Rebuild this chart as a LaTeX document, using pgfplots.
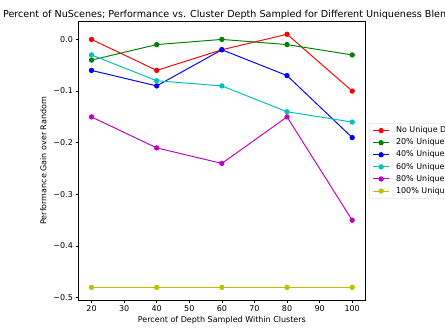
\documentclass[border=0pt]{standalone}
\usepackage{fontspec}
\setmainfont{DejaVu Sans}
\usepackage{pgfplots}
\pgfplotsset{compat=1.18}

\definecolor{mplr}{rgb}{1,0,0}
\definecolor{mplg}{rgb}{0,0.5,0}
\definecolor{mplb}{rgb}{0,0,1}
\definecolor{mplc}{rgb}{0,0.75,0.75}
\definecolor{mplm}{rgb}{0.75,0,0.75}
\definecolor{mply}{rgb}{0.75,0.75,0}

\begin{document}
\begin{tikzpicture}
\begin{axis}[
  name=ax, at={(0,0)}, anchor=south west,
  scale only axis, width=358.4pt, height=348pt,
  xmin=16, xmax=104, ymin=-0.5045, ymax=0.0345,
  xtick={20,30,40,50,60,70,80,90,100},
  ytick={-0.5,-0.4,-0.3,-0.2,-0.1,0},
  yticklabels={−0.5,−0.4,−0.3,−0.2,−0.1,0.0},
  tick align=outside, tick pos=left,
  major tick length=3.5pt,
  tick style={black, line width=0.8pt},
  axis line style={line width=0.8pt},
  tick label style={font=\fontsize{10}{12}\selectfont},
  /pgf/number format/assume math mode=true,
  xlabel={Percent of Depth Sampled Within Clusters},
  ylabel={Performance Gain over Random},
  label style={font=\fontsize{10}{12}\selectfont},
  xlabel style={at={(axis description cs:0.5,-0.0744)}, anchor=center},
  ylabel style={at={(axis description cs:-0.1228,0.5)}, anchor=center},
  legend cell align=left,
  legend image code/.code={\draw[mark repeat=2,mark phase=2,#1] plot coordinates {(0pt,0pt) (10pt,0pt) (20pt,0pt)};},
  legend style={at={(axis description cs:1,0.5)}, xshift=5.1pt, anchor=west,
    draw=black!20, rounded corners=2pt, fill=white,
    inner xsep=4pt, inner ysep=4.4pt, row sep=5.6pt,
    font=\fontsize{10}{12}\selectfont,
    nodes={inner sep=0pt, text height=7.5pt, text depth=2pt},
    /tikz/every odd column/.append style={column sep=8pt}},
  every axis plot/.append style={line width=1.2pt, mark=*, mark size=2.7pt},
]
\addplot[mplr] coordinates {(20,0) (40,-0.06) (60,-0.02) (80,0.01) (100,-0.1)};
\addlegendentry{No Unique Data}
\addplot[mplg] coordinates {(20,-0.04) (40,-0.01) (60,0) (80,-0.01) (100,-0.03)};
\addlegendentry{20\% Unique Data}
\addplot[mplb] coordinates {(20,-0.06) (40,-0.09) (60,-0.02) (80,-0.07) (100,-0.19)};
\addlegendentry{40\% Unique Data}
\addplot[mplc] coordinates {(20,-0.03) (40,-0.08) (60,-0.09) (80,-0.14) (100,-0.16)};
\addlegendentry{60\% Unique Data}
\addplot[mplm] coordinates {(20,-0.15) (40,-0.21) (60,-0.24) (80,-0.15) (100,-0.35)};
\addlegendentry{80\% Unique Data}
\addplot[mply] coordinates {(20,-0.48) (40,-0.48) (60,-0.48) (80,-0.48) (100,-0.48)};
\addlegendentry{100\% Unique Data}
\end{axis}
\node[anchor=base west, font=\fontsize{12}{14}\selectfont, inner sep=0pt] at (-94.4pt,353.75pt)
  {Percent of NuScenes; Performance vs. Cluster Depth Sampled for Different Uniqueness Blends};
\pgfresetboundingbox
\path[use as bounding box] (-98.1pt,-43.75pt) rectangle (458.1pt,375pt);
\end{tikzpicture}
\end{document}
